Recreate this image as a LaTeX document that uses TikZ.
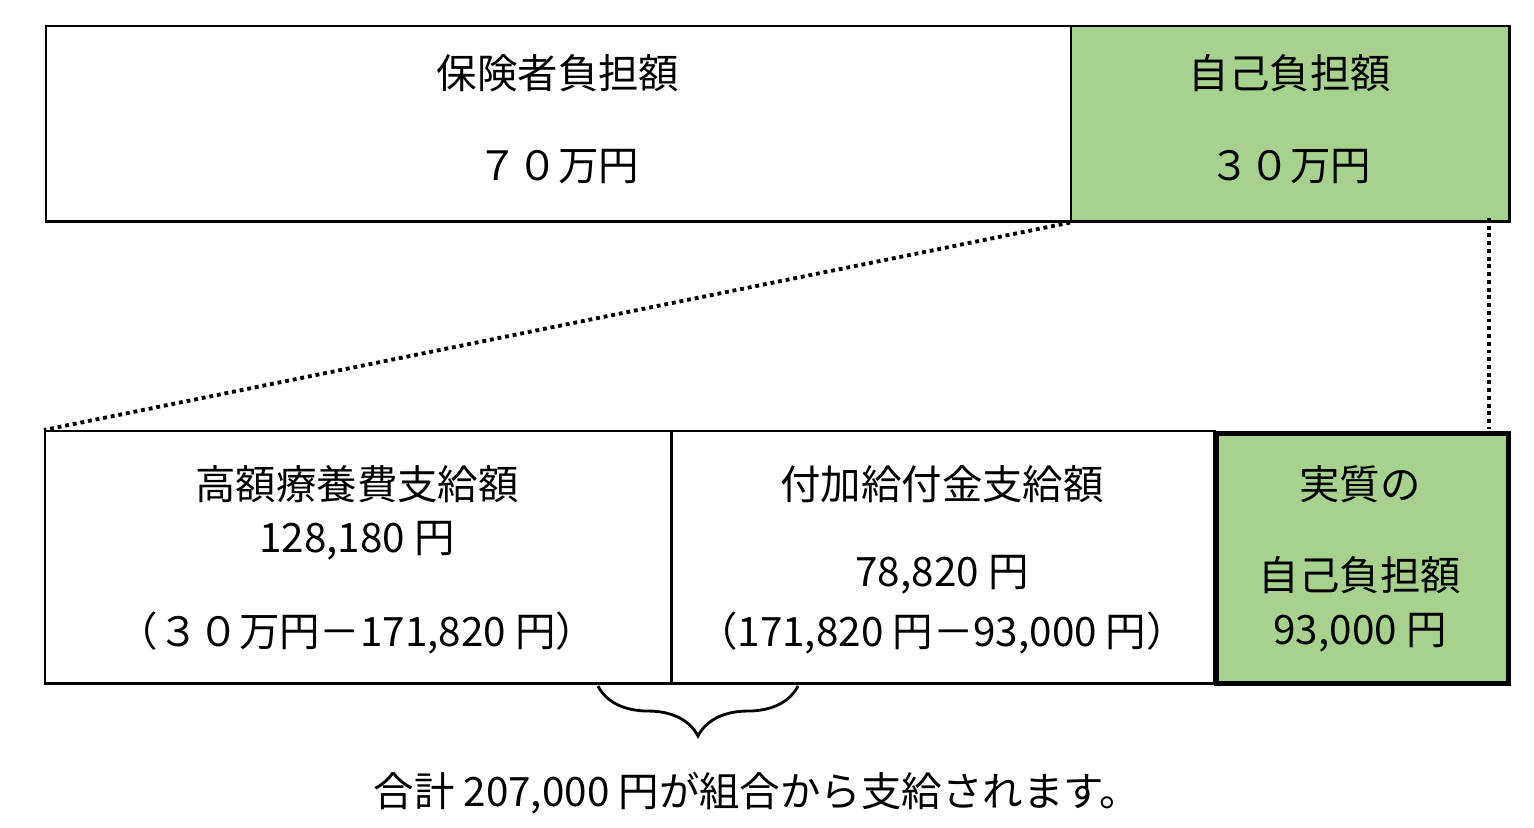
\documentclass[tikz,border=0pt]{standalone}
\usepackage{fontspec}
\setmainfont{Noto Sans CJK JP}
\usetikzlibrary{decorations.pathreplacing}
\definecolor{jikogreen}{HTML}{A9D18E}
\tikzset{
	box/.style={draw, line width=0.7pt, inner sep=0pt, anchor=north west},
	txt/.style={font=\fontsize{11.5pt}{14pt}\selectfont, inner sep=0pt},
	dots/.style={line width=1.1pt, dash pattern=on 1.1pt off 1.1pt},
}
\begin{document}
\begin{tikzpicture}[x=0.01cm, y=-0.01cm]
	\useasboundingbox (0,0) rectangle (1534,827);
	% upper row
	\node [box, minimum width=10.25cm, minimum height=1.95cm] (hoken) at (45,25) {};
	\node [box, fill=jikogreen, minimum width=4.38cm, minimum height=1.95cm] (jiko) at (1070,25) {};
	\node [txt] (hoken1) at (558,73) {保険者負担額};
	\node [txt] (hoken2) at (558,167) {７０万円};
	\node [txt] (jiko1) at (1290,73) {自己負担額};
	\node [txt] (jiko2) at (1290,167) {３０万円};
	% lower row
	\node [box, minimum width=6.26cm, minimum height=2.52cm] (kogaku) at (44,430) {};
	\node [box, minimum width=5.43cm, minimum height=2.52cm] (fuka) at (670,430) {};
	\node [box, fill=jikogreen, line width=1.5pt, minimum width=2.92cm, minimum height=2.5cm] (jisshitsu) at (1214,431) {};
	\node [txt] (kogaku1) at (357,484) {高額療養費支給額};
	\node [txt] (kogaku2) at (357,541) {128,180 円};
	\node [txt] (kogaku3) at (357,633) {（３０万円－171,820 円）};
	\node [txt] (fuka1) at (942,484) {付加給付金支給額};
	\node [txt] (fuka2) at (942,575) {78,820 円};
	\node [txt] (fuka3) at (942,633) {（171,820 円－93,000 円）};
	\node [txt] (jisshitsu1) at (1360,484) {実質の};
	\node [txt] (jisshitsu2) at (1360,575) {自己負担額};
	\node [txt] (jisshitsu3) at (1360,633) {93,000 円};
	% dotted guide lines
	\coordinate (ja) at (1489,218);
	\coordinate (jb) at (1489,429);
	\draw [dots] (jiko.south west) -- (kogaku.north west);
	\draw [dots] (ja) -- (jb);
	% brace and total
	\coordinate (bl) at (598,686);
	\coordinate (br) at (798,686);
	\draw [line width=0.8pt, decorate, decoration={brace, mirror, amplitude=0.5cm}] (bl) -- (br);
	\node [txt] (total) at (757,793) {合計 207,000 円が組合から支給されます。};
\end{tikzpicture}
\end{document}
